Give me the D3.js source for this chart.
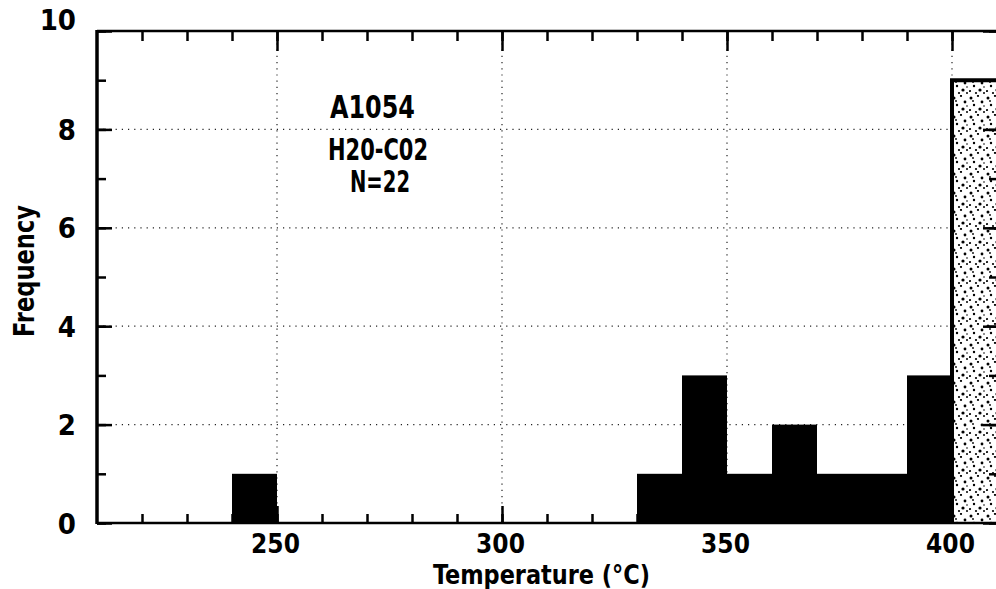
<!DOCTYPE html>
<html>
<head>
<meta charset="utf-8">
<script src="https://cdn.jsdelivr.net/npm/d3@7"></script>
<style>
  body { margin: 0; background: #fff; }
  svg text { font-family: "Liberation Sans Narrow", "Arial Narrow", "DejaVu Sans Condensed", sans-serif; font-weight: bold; fill: #000; }
</style>
</head>
<body>
<div id="chart"></div>
<script>
// Histogram bins (lower edge, 10 degC wide) and counts
var binStarts = [240, 330, 340, 350, 360, 370, 380, 390];
var counts = [1, 1, 3, 1, 2, 1, 1, 3];
// overflow bin (> 400 degC), drawn stippled
var overStarts = [400];
var overCounts = [9];

var xTickLabels = [250, 300, 350, 400];
var yTickLabels = [0, 2, 4, 6, 8, 10];
var noteLines = ["A1054", "H20-C02", "N=22"];

var svgWidth = 996;
var svgHeight = 589;
var binWidth = 10;

var svg = d3.select("#chart")
    .append("svg")
    .attr("width", svgWidth)
    .attr("height", svgHeight);

svg.append("rect").attr("width", svgWidth).attr("height", svgHeight).attr("fill", "#fff");

// scales
var x = d3.scaleLinear().domain([210, 410]).range([97, 997]);
var y = d3.scaleLinear().domain([0, 10]).range([523, 31]);

// stipple pattern for the overflow bar
var defs = svg.append("defs");
var pat = defs.append("pattern")
    .attr("id", "stipple")
    .attr("patternUnits", "userSpaceOnUse")
    .attr("width", 17).attr("height", 19);
pat.append("rect").attr("width", 17).attr("height", 19).attr("fill", "#fff");
[[2, 3, 1.5], [9, 1, 1.1], [13, 7, 1.4], [5, 10, 1.2], [1, 15, 1.1], [11, 14, 1.6], [15, 17, 1], [7, 17, 1.1], [4, 6, 0.9], [15, 11, 0.8]]
    .forEach(function(p) {
        pat.append("circle").attr("cx", p[0]).attr("cy", p[1]).attr("r", p[2]).attr("fill", "#000");
    });

// gridlines (dotted)
var grid = svg.append("g").attr("stroke", "#222").attr("stroke-width", 1.2).attr("stroke-dasharray", "1.2,5");
grid.selectAll(".hgrid")
    .data([2, 4, 6, 8])
    .enter().append("line")
    .attr("x1", x(210)).attr("x2", x(400))
    .attr("y1", d => y(d)).attr("y2", d => y(d));
grid.selectAll(".vgrid")
    .data(xTickLabels)
    .enter().append("line")
    .attr("x1", d => x(d)).attr("x2", d => x(d))
    .attr("y1", y(10)).attr("y2", y(0));

// bars
svg.append("g").selectAll("rect")
    .data(binStarts)
    .enter().append("rect")
    .attr("x", d => x(d))
    .attr("width", x(binWidth) - x(0))
    .attr("y", (d, i) => y(counts[i]))
    .attr("height", (d, i) => y(0) - y(counts[i]))
    .attr("fill", "#000");

// overflow bar
var over = svg.append("g");
over.selectAll("rect")
    .data(overStarts)
    .enter().append("rect")
    .attr("x", d => x(d))
    .attr("width", x(binWidth) - x(0))
    .attr("y", (d, i) => y(overCounts[i]))
    .attr("height", (d, i) => y(0) - y(overCounts[i]))
    .attr("fill", "url(#stipple)");
over.selectAll(".edge")
    .data(overStarts)
    .enter().append("path")
    .attr("d", (d, i) => `M${x(d)},${y(0)}V${y(overCounts[i])}H${x(d + binWidth)}`)
    .attr("fill", "none")
    .attr("stroke", "#000")
    .attr("stroke-width", 4);

// axes
function styleAxis(g) {
    g.select(".domain").remove();
    g.selectAll(".tick line").attr("stroke", "#000").attr("stroke-width", 2.5);
}
var minorX = d3.range(220, 411, 10);
var minorY = d3.range(0, 11, 1);

// bottom
svg.append("g").attr("transform", `translate(0,${y(0)})`)
    .call(d3.axisBottom(x).tickValues(minorX).tickSize(-9).tickFormat(""))
    .call(styleAxis);
svg.append("g").attr("transform", `translate(0,${y(0)})`)
    .call(d3.axisBottom(x).tickValues(xTickLabels).tickSize(-17).tickPadding(11).tickFormat(d3.format("d")))
    .call(styleAxis)
    .call(g => g.selectAll("text").attr("font-size", 26).attr("dx", -2).attr("dy", "0.72em"));

// top
svg.append("g").attr("transform", `translate(0,${y(10)})`)
    .call(d3.axisTop(x).tickValues(minorX).tickSize(-10).tickFormat(""))
    .call(styleAxis);
svg.append("g").attr("transform", `translate(0,${y(10)})`)
    .call(d3.axisTop(x).tickValues(xTickLabels).tickSize(-20).tickFormat(""))
    .call(styleAxis);

// left
svg.append("g").attr("transform", `translate(${x(210)},0)`)
    .call(d3.axisLeft(y).tickValues(minorY).tickSize(-9).tickFormat(""))
    .call(styleAxis);
svg.append("g").attr("transform", `translate(${x(210)},0)`)
    .call(d3.axisLeft(y).tickValues(yTickLabels).tickSize(-15).tickPadding(21).tickFormat(d3.format("d")))
    .call(styleAxis)
    .call(g => g.selectAll("text").attr("font-size", 29).attr("dy", d => d === 10 ? "-0.05em" : "0.35em"));

// right
svg.append("g").attr("transform", `translate(${x(410)},0)`)
    .call(d3.axisRight(y).tickValues(minorY).tickSize(-8).tickFormat(""))
    .call(styleAxis);
svg.append("g").attr("transform", `translate(${x(410)},0)`)
    .call(d3.axisRight(y).tickValues(yTickLabels).tickSize(-14).tickFormat(""))
    .call(styleAxis);

// frame lines
svg.append("line").attr("x1", x(210)).attr("x2", x(410)).attr("y1", y(0)).attr("y2", y(0))
    .attr("stroke", "#000").attr("stroke-width", 2.5);
svg.append("line").attr("x1", x(210)).attr("x2", x(410)).attr("y1", y(10)).attr("y2", y(10))
    .attr("stroke", "#000").attr("stroke-width", 2.5);
svg.append("line").attr("x1", x(210)).attr("x2", x(210)).attr("y1", y(10) - 1).attr("y2", y(0) + 1)
    .attr("stroke", "#000").attr("stroke-width", 3.5);

// axis titles
svg.append("text")
    .attr("x", 433)
    .attr("y", 584)
    .attr("font-size", 27)
    .attr("textLength", 217)
    .attr("lengthAdjust", "spacingAndGlyphs")
    .text("Temperature (°C)");

svg.append("text")
    .attr("transform", "translate(34, 271) rotate(-90)")
    .attr("text-anchor", "middle")
    .attr("font-size", 29)
    .attr("textLength", 132)
    .attr("lengthAdjust", "spacingAndGlyphs")
    .text("Frequency");

// sample annotation
var notePos = [[330, 118, 85, 32], [328, 160, 100, 30], [350, 192, 60, 30]];
svg.append("g").selectAll("text")
    .data(noteLines)
    .enter().append("text")
    .attr("x", (d, i) => notePos[i][0])
    .attr("y", (d, i) => notePos[i][1])
    .attr("font-size", (d, i) => notePos[i][3])
    .attr("textLength", (d, i) => notePos[i][2])
    .attr("lengthAdjust", "spacingAndGlyphs")
    .text(d => d);
</script>
</body>
</html>
